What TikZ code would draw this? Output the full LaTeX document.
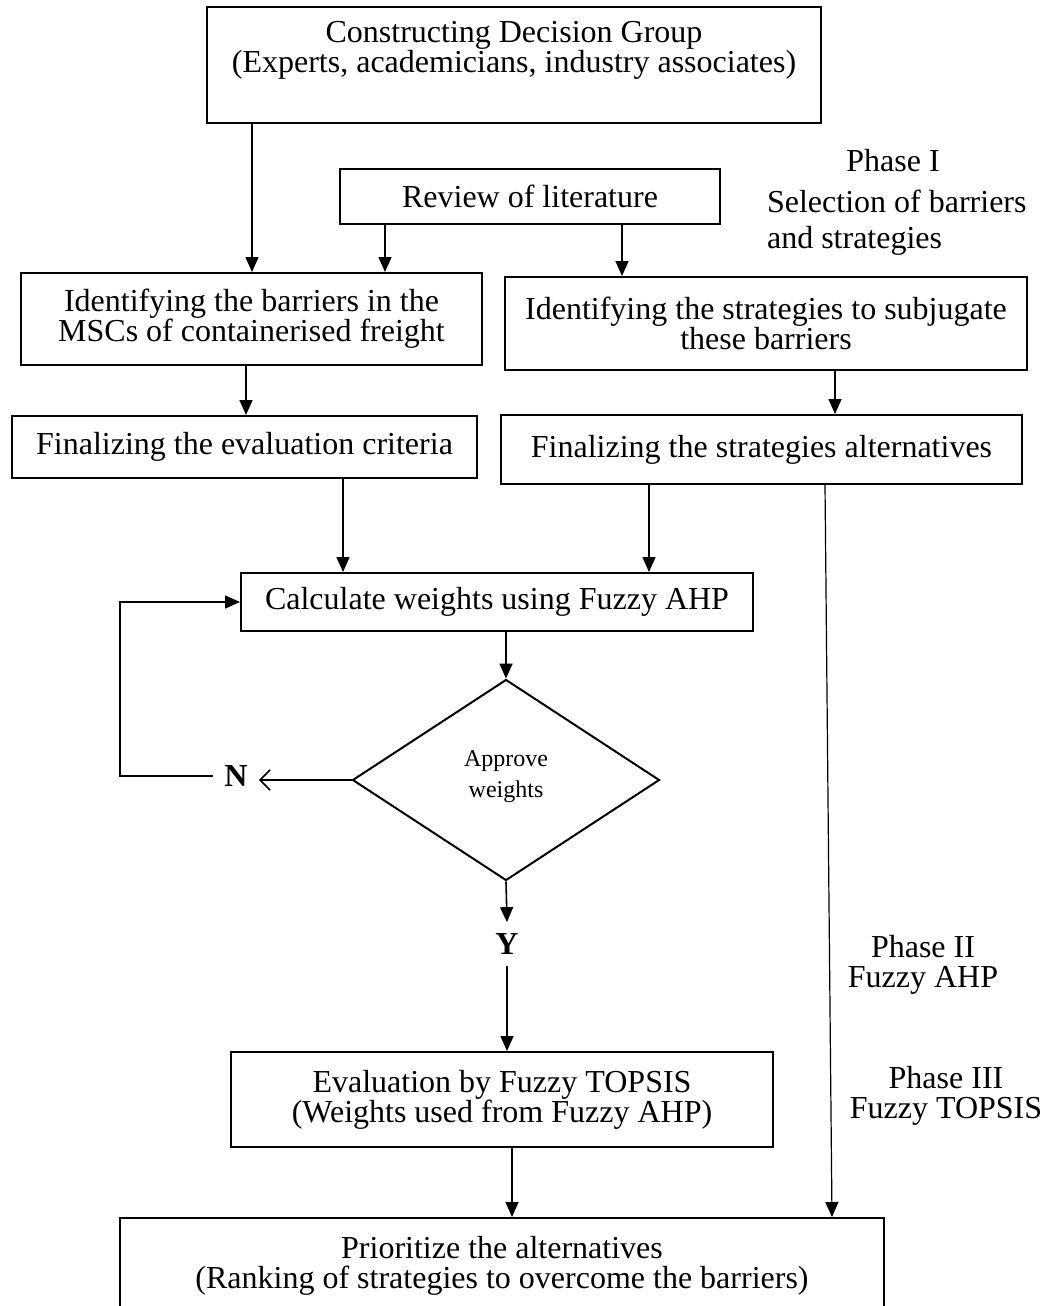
\documentclass[tikz,border=0pt]{standalone}
\usepackage{fontspec}
\setmainfont{Liberation Serif}
\usetikzlibrary{arrows.meta,shapes.geometric}

\begin{document}
\begin{tikzpicture}[x=0.5pt, y=-0.5pt,
  every node/.style={font=\fontsize{16}{15}\selectfont},
  flowbox/.style={rectangle, draw, line width=1pt, align=center, inner sep=0pt},
  flowarrow/.style={-{Triangle[length=7.5pt, width=6.5pt]}, line width=0.8pt},
  yesno/.style={font=\fontsize{16}{15}\selectfont\bfseries, inner sep=5.5pt}]
  \useasboundingbox (0,0) rectangle (1047,1306);
  \clip (0,0) rectangle (1047,1306);

  % process boxes
  \node[flowbox, minimum width=307pt, minimum height=58pt] (group) at (514,65) {Constructing Decision Group\\(Experts, academicians, industry associates)\\[3pt]\mbox{}};
  \node[flowbox, minimum width=190pt, minimum height=27.5pt] (review) at (530,196.5) {Review of literature};
  \node[flowbox, minimum width=230.5pt, minimum height=46pt] (barriers) at (251.5,319) {Identifying the barriers in the\\MSCs of containerised freight};
  \node[flowbox, minimum width=261pt, minimum height=46.5pt] (strategies) at (766,323.5) {Identifying the strategies to subjugate\\these barriers};
  \node[flowbox, minimum width=232.5pt, minimum height=31pt] (criteria) at (244.5,447) {Finalizing the evaluation criteria};
  \node[flowbox, minimum width=260.5pt, minimum height=34.5pt] (alternatives) at (761.5,449.5) {Finalizing the strategies alternatives};
  \node[flowbox, minimum width=256pt, minimum height=29pt] (weights) at (497,602) {Calculate weights using Fuzzy AHP};
  \node[diamond, draw, line width=1pt, minimum width=153.5pt, minimum height=100.5pt, inner sep=0pt, align=center, font=\fontsize{12}{15.5}\selectfont] (approve) at (506,780) {Approve\\weights\\[-10pt]\mbox{}};
  \node[yesno] (no) at (236,776) {N};
  \node[yesno] (yes) at (507,944) {Y};
  \node[flowbox, minimum width=271pt, minimum height=47.5pt] (topsis) at (502,1099.5) {Evaluation by Fuzzy TOPSIS\\(Weights used from Fuzzy AHP)};
  \node[flowbox, minimum width=382pt, minimum height=48pt] (rank) at (502,1266) {Prioritize the alternatives\\(Ranking of strategies to overcome the barriers)};

  % phase labels
  \node (phaseone) at (893,161) {Phase I};
  \node[align=left, anchor=west, font=\fontsize{16}{18}\selectfont] (phaseonetext) at (760,223) {Selection of barriers\\and strategies};
  \node[align=center] (phasetwo) at (923,965) {Phase II\\Fuzzy AHP};
  \node[align=center] (phasethree) at (946,1096) {Phase III\\Fuzzy TOPSIS};

  % connectors
  \draw[flowarrow] (252,0 |- group.south) -- (252,0 |- barriers.north);
  \draw[flowarrow] (385,0 |- review.south) -- (385,0 |- barriers.north);
  \draw[flowarrow] (622,0 |- review.south) -- (622,0 |- strategies.north);
  \draw[flowarrow] (246,0 |- barriers.south) -- (246,0 |- criteria.north);
  \draw[flowarrow] (835,0 |- strategies.south) -- (835,0 |- alternatives.north);
  \draw[flowarrow] (343,0 |- criteria.south) -- (343,0 |- weights.north);
  \draw[flowarrow] (649,0 |- alternatives.south) -- (649,0 |- weights.north);
  \draw[flowarrow] (506,0 |- weights.south) -- (approve.north);
  \draw[-{Straight Barb[length=5pt, width=10pt]}, line width=0.8pt] (approve.west) -- (approve.west -| no.east);
  \coordinate (loopcorner) at (120,776);
  \draw[flowarrow] (no.west) -- (loopcorner) |- (weights.west);
  \draw[flowarrow] (approve.south) -- (yes.north);
  \draw[flowarrow] (yes.south) -- (yes.south |- topsis.north);
  \draw[flowarrow] (512,0 |- topsis.south) -- (512,0 |- rank.north);
  \draw[flowarrow, line width=0.6pt] (825,0 |- alternatives.south) -- (832,0 |- rank.north);
\end{tikzpicture}
\end{document}
